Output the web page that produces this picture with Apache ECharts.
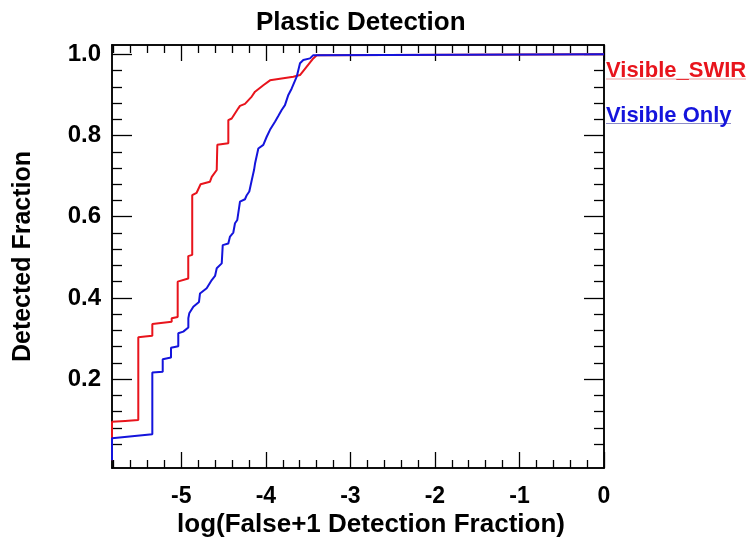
<!DOCTYPE html>
<html>
<head>
<meta charset="utf-8">
<script src="https://cdn.jsdelivr.net/npm/echarts@6/dist/echarts.min.js"></script>
<style>
html,body{margin:0;padding:0;background:#fff;}
#chart{width:748px;height:544px;}
</style>
</head>
<body>
<div id="chart"></div>
<script>
// ---- data ----
const titleText = 'Plastic Detection';
const xAxisName = 'log(False+1 Detection Fraction)';
const yAxisName = 'Detected Fraction';
const seriesNames = ['Visible_SWIR', 'Visible Only'];

const xMin = -5.82, xMax = 0;
const yMin = -0.019, yMax = 1.023;
const xMajorTicks = [-5, -4, -3, -2, -1, 0];
const yMajorTicks = [0.2, 0.4, 0.6, 0.8, 1.0];

// Visible_SWIR (red)
const swirX = [-5.82, -5.82, -5.665, -5.509, -5.509, -5.43, -5.343, -5.343, -5.114, -5.114, -5.043, -5.043,
  -4.918, -4.918, -4.871, -4.871, -4.819, -4.772, -4.662, -4.640, -4.581, -4.578, -4.574, -4.444, -4.444,
  -4.404, -4.326, -4.306, -4.247, -4.167, -4.128, -4.030, -3.951, -3.675, -3.596, -3.439, -3.398, -3.398, 0];
const swirY = [0.0, 0.095, 0.097, 0.099, 0.303, 0.305, 0.307, 0.336, 0.341, 0.350, 0.353, 0.440,
  0.448, 0.503, 0.506, 0.653, 0.659, 0.680, 0.686, 0.698, 0.715, 0.744, 0.777, 0.781, 0.838,
  0.842, 0.867, 0.873, 0.878, 0.896, 0.908, 0.924, 0.936, 0.945, 0.949, 0.990, 0.998, 1.0, 1.0];

// Visible Only (blue)
const visX = [-5.82, -5.82, -5.343, -5.343, -5.220, -5.220, -5.122, -5.122, -5.036, -5.036, -4.977, -4.917,
  -4.917, -4.906, -4.858, -4.791, -4.779, -4.700, -4.640, -4.601, -4.581, -4.522, -4.510, -4.444, -4.424,
  -4.385, -4.365, -4.338, -4.306, -4.247, -4.226, -4.196, -4.167, -4.140, -4.128, -4.089, -4.030, -3.990,
  -3.951, -3.892, -3.853, -3.813, -3.774, -3.734, -3.694, -3.635, -3.596, -3.557, -3.478, -3.439, -3.439, 0];
const visY = [0.0, 0.054, 0.064, 0.216, 0.218, 0.249, 0.253, 0.277, 0.281, 0.313, 0.317, 0.327,
  0.350, 0.362, 0.378, 0.390, 0.411, 0.424, 0.444, 0.454, 0.473, 0.485, 0.530, 0.534, 0.551,
  0.561, 0.584, 0.592, 0.637, 0.643, 0.653, 0.662, 0.690, 0.715, 0.731, 0.768, 0.777, 0.797,
  0.814, 0.834, 0.848, 0.863, 0.875, 0.900, 0.916, 0.945, 0.978, 0.986, 0.990, 0.998, 1.0, 1.0];

// ---- build ----
const FONT = "'Liberation Sans', Arial, Helvetica, sans-serif";
const RED = '#e8141c';
const BLUE = '#1414dc';

function minorTicks(start, stop, step, majors) {
  const out = [];
  for (let v = start; v <= stop + 1e-9; v += step) {
    const r = Math.round(v * 1000) / 1000;
    if (!majors.some(m => Math.abs(m - r) < 1e-6)) out.push(r);
  }
  return out;
}
const xMinor = minorTicks(-5.8, -0.2, 0.2, xMajorTicks);
const yMinor = minorTicks(0.04, 0.96, 0.04, yMajorTicks);

const lineStyleAxis = { show: true, onZero: false, lineStyle: { color: '#000', width: 1.5 } };

function xAx(pos, ticks, len, labels) {
  return {
    type: 'value', position: pos, min: xMin, max: xMax,
    axisLine: lineStyleAxis,
    axisTick: { show: true, inside: true, length: len, customValues: ticks, lineStyle: { color: '#000', width: 1.3 } },
    axisLabel: labels ? {
      show: true, customValues: xMajorTicks, margin: 17,
      formatter: v => String(v),
      fontFamily: FONT, fontWeight: 'bold', fontSize: 23, color: '#000'
    } : { show: false },
    splitLine: { show: false }
  };
}
function yAx(pos, ticks, len, labels) {
  return {
    type: 'value', position: pos, min: yMin, max: yMax,
    axisLine: lineStyleAxis,
    axisTick: { show: true, inside: true, length: len, customValues: ticks, lineStyle: { color: '#000', width: 1.3 } },
    axisLabel: labels ? {
      show: true, customValues: yMajorTicks, margin: 11,
      formatter: v => v.toFixed(1),
      fontFamily: FONT, fontWeight: 'bold', fontSize: 24, color: '#000'
    } : { show: false },
    splitLine: { show: false }
  };
}

const xAxes = [xAx('bottom', xMajorTicks, 16, true), xAx('bottom', xMinor, 8, false),
               xAx('top', xMajorTicks, 16, false), xAx('top', xMinor, 8, false)];
xAxes[0].name = xAxisName;
xAxes[0].nameLocation = 'middle';
xAxes[0].nameGap = 44;
xAxes[0].nameMoveOverlap = false;
xAxes[0].nameTextStyle = { fontFamily: FONT, fontWeight: 'bold', fontSize: 26, color: '#000', padding: [0, 0, 0, 26] };

const yAxes = [yAx('left', yMajorTicks, 20, true), yAx('left', yMinor, 10, false),
               yAx('right', yMajorTicks, 20, false), yAx('right', yMinor, 10, false)];
yAxes[0].name = yAxisName;
yAxes[0].nameLocation = 'middle';
yAxes[0].nameGap = 76;
yAxes[0].nameMoveOverlap = false;
yAxes[0].nameRotate = 90;
yAxes[0].nameTextStyle = { fontFamily: FONT, fontWeight: 'bold', fontSize: 25, color: '#000' };

const chart = echarts.init(document.getElementById('chart'), null, { renderer: 'canvas' });
chart.setOption({
  animation: false,
  backgroundColor: '#fff',
  title: {
    text: titleText, left: 256, top: 10, padding: 0,
    textStyle: { fontFamily: FONT, fontWeight: 'bold', fontSize: 26, color: '#000' }
  },
  legend: {
    orient: 'vertical', left: 601, top: 60, padding: 0,
    icon: 'none', itemWidth: 0, itemHeight: 22, itemGap: 23,
    selectedMode: false,
    textStyle: { fontFamily: FONT, fontWeight: 'bold', fontSize: 22, lineHeight: 22 },
    data: [
      { name: seriesNames[0], textStyle: { color: RED } },
      { name: seriesNames[1], textStyle: { color: BLUE } }
    ]
  },
  grid: { left: 112, top: 45, width: 492, height: 423, containLabel: false, outerBoundsMode: 'none' },
  xAxis: xAxes,
  yAxis: yAxes,
  graphic: [
    { type: 'line', shape: { x1: 606, y1: 79, x2: 746, y2: 79 }, style: { stroke: '#e9a0a0', lineWidth: 1.2 } },
    { type: 'line', shape: { x1: 606, y1: 123.5, x2: 731, y2: 123.5 }, style: { stroke: '#8c8cc8', lineWidth: 1.2 } }
  ],
  series: [
    {
      name: seriesNames[0], type: 'line', xAxisIndex: 0, yAxisIndex: 0,
      showSymbol: false, symbol: 'none', color: RED,
      lineStyle: { color: RED, width: 2 },
      data: swirX.map((x, i) => [x, swirY[i]]),
      z: 2
    },
    {
      name: seriesNames[1], type: 'line', xAxisIndex: 0, yAxisIndex: 0,
      showSymbol: false, symbol: 'none', color: BLUE,
      lineStyle: { color: BLUE, width: 2 },
      data: visX.map((x, i) => [x, visY[i]]),
      z: 3
    }
  ]
});
</script>
</body>
</html>
